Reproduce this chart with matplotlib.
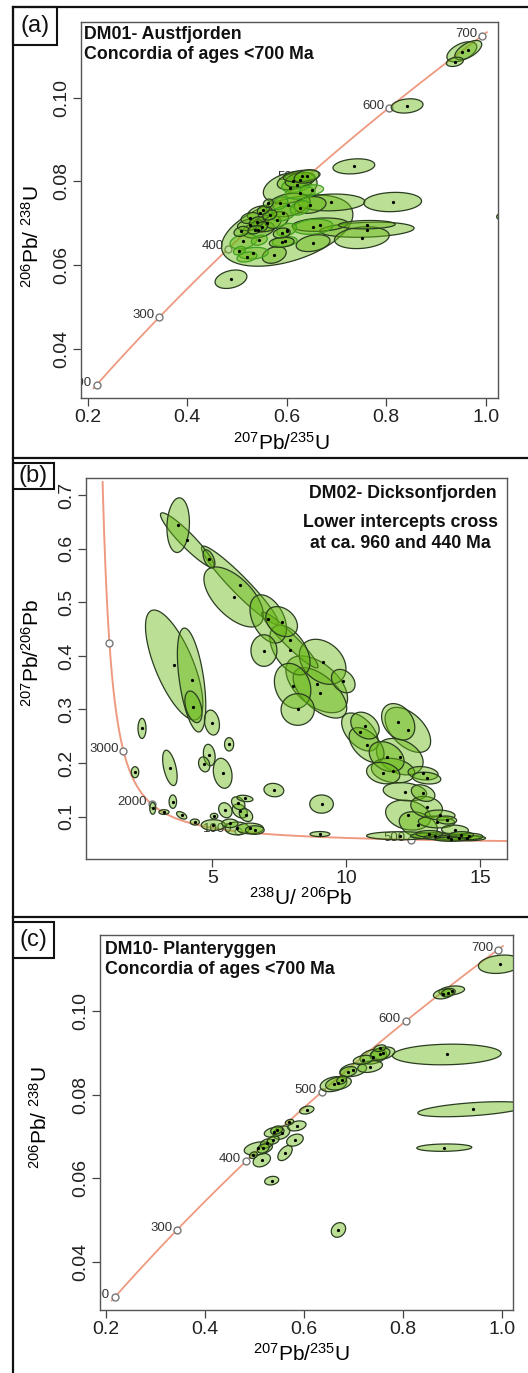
import numpy as np
import matplotlib
matplotlib.use('Agg')
import matplotlib.pyplot as plt
from matplotlib.patches import Polygon, Rectangle
from matplotlib.lines import Line2D
from matplotlib.transforms import ScaledTranslation

plt.rcParams['font.family'] = ['Liberation Sans', 'DejaVu Sans']
plt.rcParams['mathtext.fontset'] = 'custom'
plt.rcParams['mathtext.rm'] = 'Liberation Sans'
plt.rcParams['mathtext.it'] = 'Liberation Sans:italic'
plt.rcParams['mathtext.bf'] = 'Liberation Sans:bold'
plt.rcParams['mathtext.default'] = 'regular'

# ---------------- decay constants (per Myr) ----------------
L238 = 1.55125e-4
L235 = 9.8485e-4
U85 = 137.88

# ---------------- Panel (a): DM01 Austfjorden (Wetherill) ----------------
a_x   = [0.965, 0.952, 0.938, 0.842, 0.735, 0.813, 0.761, 0.751, 0.667, 0.761,
         0.601, 0.607, 0.630, 0.613, 0.650, 0.690, 0.647, 0.603, 0.653, 0.590,
         0.575, 0.488, 0.640, 0.627, 0.620, 0.563, 0.546, 0.526, 0.543, 0.560,
         0.580, 0.593, 0.600, 0.590, 0.596, 0.653, 0.513, 0.533, 0.520, 0.526,
         0.540, 0.550, 0.536, 0.566, 0.553, 0.587, 0.509, 0.627, 0.627, 1.040,
         0.545, 0.505]
a_y   = [0.1113, 0.1109, 0.1085, 0.0980, 0.0836, 0.0751, 0.0685, 0.0666, 0.0697, 0.0697,
         0.0683, 0.0785, 0.0813, 0.0800, 0.0780, 0.0750, 0.0744, 0.0744, 0.0653, 0.0655,
         0.0625, 0.0567, 0.0812, 0.0804, 0.0792, 0.0748, 0.0724, 0.0697, 0.0685, 0.0700,
         0.0708, 0.0724, 0.0685, 0.0677, 0.0657, 0.0692, 0.0657, 0.0629, 0.0620, 0.0713,
         0.0704, 0.0692, 0.0685, 0.0720, 0.0732, 0.0748, 0.0681, 0.0737, 0.0773, 0.0716,
         0.0660, 0.0635]
a_sx  = [0.027, 0.030, 0.017, 0.032, 0.042, 0.058, 0.095, 0.055, 0.056, 0.057,
         0.132, 0.054, 0.037, 0.032, 0.024, 0.067, 0.032, 0.044, 0.034, 0.025,
         0.024, 0.032, 0.025, 0.030, 0.030, 0.010, 0.025, 0.025, 0.032, 0.028,
         0.0235, 0.025, 0.020, 0.017, 0.025, 0.040, 0.027, 0.030, 0.020, 0.018,
         0.015, 0.012, 0.014, 0.014, 0.012, 0.015, 0.015, 0.020, 0.030, 0.018,
         0.016, 0.012]
a_sy  = [0.0023, 0.0024, 0.0011, 0.0017, 0.0018, 0.0023, 0.0018, 0.0026, 0.0016, 0.0010,
         0.0085, 0.0038, 0.0014, 0.0020, 0.0012, 0.0020, 0.0020, 0.0028, 0.0020, 0.0012,
         0.0020, 0.0022, 0.0016, 0.0018, 0.0018, 0.0010, 0.0018, 0.0014, 0.0020, 0.0020,
         0.0020, 0.0018, 0.0015, 0.0012, 0.0012, 0.0018, 0.0018, 0.0014, 0.0012, 0.0013,
         0.0012, 0.0012, 0.0010, 0.0012, 0.0011, 0.0015, 0.0012, 0.0017, 0.0015, 0.0010,
         0.0012, 0.0010]
a_rho = [0.6, 0.5, 0.3, 0.2, 0.2, 0.1, 0.2, 0.2, 0.2, 0.1,
         0.45, 0.3, 0.3, 0.3, 0.2, 0.1, 0.2, 0.3, 0.3, 0.2,
         0.3, 0.3, 0.3, 0.3, 0.3, 0.2, 0.3, 0.3, 0.3, 0.3,
         0.3, 0.3, 0.3, 0.2, 0.2, 0.2, 0.3, 0.2, 0.3, 0.3,
         0.3, 0.3, 0.3, 0.3, 0.3, 0.3, 0.3, 0.3, 0.2, 0.0,
         0.3, 0.3]
a_green_edge = [0, 0, 0, 0, 0, 0, 0, 0, 0, 0,
                0, 0, 0, 0, 1, 0, 0, 0, 0, 0,
                0, 0, 0, 0, 1, 0, 0, 0, 0, 0,
                0, 1, 1, 0, 1, 1, 1, 1, 1, 0,
                0, 0, 0, 0, 0, 1, 0, 1, 1, 0,
                1, 1]
a_ages = [200, 300, 400, 500, 600, 700]
a_age_labels = ['200', '300', '400', '500', '600', '700']

# ---------------- Panel (b): DM02 Dicksonfjorden (Tera-Wasserburg) ----------------
b_x   = [3.73, 4.07, 4.88, 6.03, 5.80, 7.09, 7.59, 6.93, 7.90, 7.90,
         9.12, 9.89, 8.90, 8.00, 8.19, 9.02, 10.51, 10.70, 12.30, 11.94,
         10.76, 11.51, 12.00, 11.75, 11.38, 12.87, 13.00, 12.19, 12.87, 12.31,
         13.00, 12.69, 13.50, 13.37, 13.75, 12.00, 14.06, 13.30, 13.80, 14.20,
         14.50, 13.90, 14.60, 13.10, 14.30,
         3.58, 4.23, 4.30, 4.99, 2.38, 2.12, 3.42, 4.89, 4.70, 5.63,
         5.39, 3.53, 7.30, 9.08, 2.78, 3.20, 3.86, 4.35, 5.07, 5.49,
         5.97, 6.03, 6.26, 6.22, 5.66, 5.04, 5.93, 6.41, 6.59, 9.02]
b_y   = [0.644, 0.616, 0.581, 0.532, 0.510, 0.469, 0.464, 0.410, 0.4295, 0.411,
         0.389, 0.353, 0.347, 0.344, 0.300, 0.331, 0.258, 0.270, 0.262, 0.277,
         0.2336, 0.212, 0.212, 0.186, 0.1813, 0.181, 0.172, 0.1465, 0.144, 0.103,
         0.118, 0.0843, 0.103, 0.090, 0.0937, 0.0644, 0.075, 0.064, 0.062, 0.061,
         0.060, 0.058, 0.063, 0.068, 0.066,
         0.383, 0.355, 0.305, 0.2756, 0.2647, 0.183, 0.191, 0.215, 0.1976, 0.235,
         0.181, 0.128, 0.1496, 0.1235, 0.1155, 0.1086, 0.1025, 0.090, 0.101, 0.112,
         0.125, 0.1105, 0.103, 0.134, 0.0875, 0.0843, 0.078, 0.078, 0.075, 0.0675]
b_sx  = [0.42, 1.00, 0.22, 1.43, 1.11, 0.68, 0.59, 0.485, 1.05, 0.75,
         0.87, 0.44, 1.15, 0.68, 0.62, 1.00, 0.68, 0.53, 0.85, 0.62,
         0.65, 0.65, 0.87, 0.81, 0.62, 0.56, 0.53, 0.81, 0.44, 0.84,
         0.59, 0.71, 0.56, 0.68, 0.37, 1.24, 0.50, 0.90, 0.90, 0.80,
         0.70, 0.60, 0.50, 0.50, 0.45,
         1.07, 0.53, 0.32, 0.28, 0.15, 0.14, 0.27, 0.22, 0.21, 0.17,
         0.35, 0.14, 0.37, 0.44, 0.11, 0.19, 0.19, 0.17, 0.14, 0.25,
         0.25, 0.28, 0.25, 0.30, 0.30, 0.45, 0.45, 0.50, 0.35, 0.37]
b_sy  = [0.051, 0.051, 0.017, 0.073, 0.056, 0.045, 0.028, 0.0295, 0.052, 0.0466,
         0.042, 0.0218, 0.053, 0.042, 0.0295, 0.047, 0.0355, 0.025, 0.042, 0.034,
         0.0326, 0.028, 0.034, 0.023, 0.020, 0.0125, 0.011, 0.017, 0.0155, 0.028,
         0.020, 0.0249, 0.0093, 0.011, 0.0075, 0.0075, 0.0093, 0.006, 0.006, 0.005,
         0.005, 0.004, 0.006, 0.006, 0.006,
         0.1026, 0.097, 0.0295, 0.0233, 0.0187, 0.0103, 0.033, 0.020, 0.014, 0.0125,
         0.028, 0.0125, 0.0125, 0.017, 0.011, 0.0044, 0.007, 0.0056, 0.0053, 0.014,
         0.012, 0.013, 0.012, 0.006, 0.008, 0.010, 0.012, 0.010, 0.008, 0.0047]
b_rho = [0.1, -0.93, -0.5, -0.95, -0.6, -0.4, -0.3, 0.0, -0.95, -0.5,
         -0.3, -0.3, -0.5, -0.2, 0.0, -0.6, -0.5, -0.3, -0.5, -0.3,
         -0.5, -0.3, -0.3, -0.2, -0.2, -0.2, -0.2, -0.2, -0.3, -0.2,
         -0.2, -0.3, -0.1, -0.1, -0.1, 0.0, -0.1, 0.0, 0.0, 0.0,
         0.0, 0.0, 0.0, 0.0, 0.0,
         -0.7, -0.5, -0.4, -0.2, 0.0, 0.0, -0.5, -0.2, -0.2, 0.0,
         -0.2, 0.0, -0.1, 0.0, 0.0, 0.0, -0.5, 0.0, 0.0, -0.2,
         -0.3, -0.3, -0.3, -0.3, 0.0, 0.0, 0.0, 0.0, 0.0, 0.0]
b_ages = [4000, 3000, 2000, 1000, 500]
b_age_labels = ['', '3000', '2000', '1000', '500']

# ---------------- Panel (c): DM10 Planteryggen (Wetherill) ----------------
c_x   = [0.9967, 0.882, 0.899, 0.892, 0.889, 0.9415, 0.884, 0.670, 0.535, 0.660,
         0.670, 0.700, 0.734, 0.7405, 0.754, 0.760, 0.720, 0.690, 0.754, 0.6766,
         0.606, 0.571, 0.586, 0.582, 0.562, 0.515, 0.555, 0.538, 0.525, 0.508,
         0.518, 0.498, 0.545, 0.540]
c_y   = [0.1112, 0.1041, 0.1049, 0.1044, 0.0896, 0.0765, 0.0673, 0.0476, 0.0594, 0.0825,
         0.0827, 0.0859, 0.0867, 0.0891, 0.0897, 0.0899, 0.0883, 0.0855, 0.0911, 0.0835,
         0.0763, 0.0734, 0.0725, 0.0691, 0.0660, 0.0643, 0.0709, 0.0691, 0.0683, 0.0671,
         0.0671, 0.0655, 0.0715, 0.0710]
c_sx  = [0.0438, 0.020, 0.026, 0.014, 0.110, 0.111, 0.0556, 0.0145, 0.0142, 0.027,
         0.026, 0.027, 0.025, 0.027, 0.020, 0.024, 0.020, 0.017, 0.012, 0.010,
         0.0145, 0.0085, 0.0185, 0.0168, 0.0145, 0.0175, 0.0168, 0.012, 0.013, 0.0285,
         0.012, 0.008, 0.012, 0.020]
c_sy  = [0.0022, 0.0012, 0.0011, 0.0010, 0.00247, 0.0018, 0.00088, 0.00175, 0.00103, 0.0018,
         0.0016, 0.0016, 0.0014, 0.0018, 0.0015, 0.0015, 0.0011, 0.0012, 0.0008, 0.0010,
         0.00096, 0.00067, 0.0012, 0.00144, 0.0018, 0.0016, 0.0016, 0.0010, 0.0011, 0.0016,
         0.0011, 0.0008, 0.0010, 0.0012]
c_rho = [0.2, 0.3, 0.3, 0.3, 0.1, 0.5, 0.1, 0.2, 0.2, 0.3,
         0.3, 0.3, 0.3, 0.3, 0.3, 0.3, 0.3, 0.3, 0.3, 0.3,
         0.3, 0.3, 0.3, 0.3, 0.5, 0.3, 0.3, 0.3, 0.3, 0.3,
         0.3, 0.3, 0.3, 0.3]
c_ages = [200, 300, 400, 500, 600, 700]
c_age_labels = ['200', '300', '400', '500', '600', '700']

# ---------------- styles ----------------
FACE = (0.40, 0.72, 0.08, 0.45)
EDGE_DARK = (0.17, 0.24, 0.13)
EDGE_GREEN = (0.25, 0.62, 0.12)
CONC = '#EE9A80'
W, H = 528, 1373


def ellipse_pts(cx, cy, hx, hy, rho, n=120):
    t = np.linspace(0, 2 * np.pi, n)
    x = cx + hx * np.cos(t)
    y = cy + hy * (rho * np.cos(t) + np.sqrt(1 - rho ** 2) * np.sin(t))
    return np.column_stack([x, y])


def draw_ellipses(ax, xs, ys, sxs, sys_, rhos, green=None, xr=1.0, yr=1.0):
    order = np.argsort([-(sx / xr) * (sy / yr) for sx, sy in zip(sxs, sys_)])
    for i in order:
        ec = EDGE_GREEN if (green is not None and green[i]) else EDGE_DARK
        p = Polygon(ellipse_pts(xs[i], ys[i], sxs[i], sys_[i], rhos[i]),
                    closed=True, facecolor=FACE, edgecolor=ec, lw=0.9, zorder=3)
        ax.add_patch(p)
    ax.plot(xs, ys, 'o', ms=1.3, color='k', zorder=5, lw=0)


def wetherill(t):
    t = np.asarray(t, float)
    return np.exp(L235 * t) - 1, np.exp(L238 * t) - 1


def tera(t):
    t = np.asarray(t, float)
    r68 = np.exp(L238 * t) - 1
    r75 = np.exp(L235 * t) - 1
    return 1.0 / r68, r75 / (U85 * r68)


def style_axes(ax, xt, xtl, yt, ytl):
    ax.set_xticks(xt)
    ax.set_xticklabels(xtl)
    ax.set_yticks(yt)
    ax.set_yticklabels(ytl)
    for s in ax.spines.values():
        s.set_color('#555555')
        s.set_linewidth(1.0)
    ax.tick_params(colors='#444444', labelcolor='#222222', length=6, width=0.9,
                   labelsize=14, pad=2)
    for lbl in ax.get_yticklabels():
        lbl.set_rotation(90)
        lbl.set_va('center')


def age_markers(ax, xs, ys, labels, fs=9.5):
    ax.plot(xs, ys, 'o', ms=5, mfc='white', mec='#777777', mew=1.0, zorder=2)
    off = ScaledTranslation(-3.5 / 72, 1.5 / 72, fig.dpi_scale_trans)
    for x, y, s in zip(xs, ys, labels):
        if s:
            ax.text(x, y, s, transform=ax.transData + off, ha='right', va='center',
                    fontsize=fs, color='#333333', clip_on=True, zorder=2)


fig = plt.figure(figsize=(W / 100, H / 100), dpi=100)


def axrect(l, r, t, b):
    return [l / W, 1 - b / H, (r - l) / W, (b - t) / H]


# ---------- Panel (a) ----------
axa = fig.add_axes(axrect(81, 498, 22, 398))
axa.set_xlim(0.1865, 1.0247)
axa.set_ylim(0.0284, 0.1180)
tt = np.linspace(195, 705, 300)
cx, cy = wetherill(tt)
axa.plot(cx, cy, color=CONC, lw=1.3, zorder=1)
mx, my = wetherill(a_ages)
age_markers(axa, mx, my, a_age_labels)
draw_ellipses(axa, a_x, a_y, a_sx, a_sy, a_rho, a_green_edge, xr=0.84, yr=0.09)
style_axes(axa, [0.2, 0.4, 0.6, 0.8, 1.0], ['0.2', '0.4', '0.6', '0.8', '1.0'],
           [0.04, 0.06, 0.08, 0.10], ['0.04', '0.06', '0.08', '0.10'])
axa.set_xlabel(r'$^{207}$Pb/$^{235}$U', fontsize=15)
axa.set_ylabel(r'$^{206}$Pb/ $^{238}$U', fontsize=15)
axa.xaxis.set_label_coords(0.48, -0.12)
axa.yaxis.set_label_coords(-0.117, 0.43)
axa.xaxis.label.set_va('center')
axa.yaxis.label.set_va('center')
axa.text(0.006, 0.99, 'DM01- Austfjorden\nConcordia of ages <700 Ma',
         transform=axa.transAxes, ha='left', va='top', fontsize=12.8,
         fontweight='bold', linespacing=1.25, color='#111111', zorder=6)

# ---------- Panel (b) ----------
axb = fig.add_axes(axrect(86, 507, 478, 859))
axb.set_xlim(0.29, 16.0)
axb.set_ylim(0.021, 0.732)
tt = np.linspace(380, 4780, 800)
cx, cy = tera(tt)
axb.plot(cx, cy, color=CONC, lw=1.4, zorder=1)
mx, my = tera(b_ages)
age_markers(axb, mx, my, b_age_labels)
draw_ellipses(axb, b_x, b_y, b_sx, b_sy, b_rho, None, xr=15.7, yr=0.71)
style_axes(axb, [5, 10, 15], ['5', '10', '15'],
           [0.1, 0.2, 0.3, 0.4, 0.5, 0.6, 0.7],
           ['0.1', '0.2', '0.3', '0.4', '0.5', '0.6', '0.7'])
axb.set_xlabel(r'$^{238}$U/ $^{206}$Pb', fontsize=15)
axb.set_ylabel(r'$^{207}$Pb/$^{206}$Pb', fontsize=15)
axb.xaxis.set_label_coords(0.51, -0.102)
axb.yaxis.set_label_coords(-0.128, 0.54)
axb.xaxis.label.set_va('center')
axb.yaxis.label.set_va('center')
axb.text(0.976, 0.982, 'DM02- Dicksonfjorden', transform=axb.transAxes,
         ha='right', va='top', fontsize=12.8, fontweight='bold', color='#111111', zorder=6)
axb.text(0.746, 0.905, 'Lower intercepts cross\nat ca. 960 and 440 Ma',
         transform=axb.transAxes, ha='center', va='top', fontsize=12.8,
         fontweight='bold', linespacing=1.3, color='#111111', zorder=6)

# ---------- Panel (c) ----------
axc = fig.add_axes(axrect(100, 513, 935, 1310))
axc.set_xlim(0.1879, 1.0229)
axc.set_ylim(0.02844, 0.1182)
tt = np.linspace(195, 705, 300)
cx, cy = wetherill(tt)
axc.plot(cx, cy, color=CONC, lw=1.3, zorder=1)
mx, my = wetherill(c_ages)
age_markers(axc, mx, my, c_age_labels)
draw_ellipses(axc, c_x, c_y, c_sx, c_sy, c_rho, None, xr=0.84, yr=0.09)
style_axes(axc, [0.2, 0.4, 0.6, 0.8, 1.0], ['0.2', '0.4', '0.6', '0.8', '1.0'],
           [0.04, 0.06, 0.08, 0.10], ['0.04', '0.06', '0.08', '0.10'])
axc.set_xlabel(r'$^{207}$Pb/$^{235}$U', fontsize=15)
axc.set_ylabel(r'$^{206}$Pb/ $^{238}$U', fontsize=15)
axc.xaxis.set_label_coords(0.487, -0.117)
axc.yaxis.set_label_coords(-0.145, 0.512)
axc.xaxis.label.set_va('center')
axc.yaxis.label.set_va('center')
axc.text(0.012, 0.984, 'DM10- Planteryggen\nConcordia of ages <700 Ma',
         transform=axc.transAxes, ha='left', va='top', fontsize=12.8,
         fontweight='bold', linespacing=1.25, color='#111111', zorder=6)


# ---------- frame lines and panel label boxes ----------
def fline(x0, y0, x1, y1, lw=1.6):
    fig.add_artist(Line2D([x0 / W, x1 / W], [1 - y0 / H, 1 - y1 / H],
                          transform=fig.transFigure, color='#111111', lw=lw))


fline(13, 7, W, 7)
fline(13, 7, 13, H)
fline(13, 458, W, 458)
fline(13, 917, W, 917)


def label_box(l, t, r, b, s):
    fig.add_artist(Rectangle((l / W, 1 - b / H), (r - l) / W, (b - t) / H,
                             transform=fig.transFigure, fill=True, facecolor='white',
                             edgecolor='#111111', lw=1.5))
    fig.text((l + r) / 2 / W, 1 - (t + b) / 2 / H, s, ha='center', va='center',
             fontsize=17, color='#111111')


label_box(13, 7, 57, 45, '(a)')
label_box(13, 463, 54, 489, '(b)')
label_box(13, 922, 54, 958, '(c)')

fig.savefig('out.png', dpi=100)
